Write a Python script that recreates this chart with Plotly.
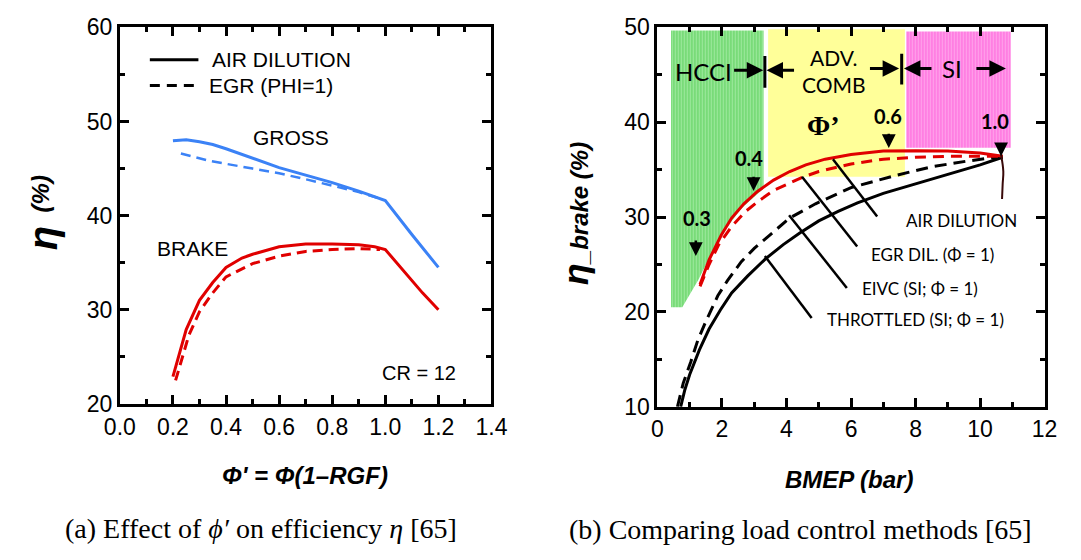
import plotly.graph_objects as go

# ---------------- data : panel (a) ----------------
gross_air_x = [0.20, 0.25, 0.30, 0.35, 0.40, 0.50, 0.60, 0.70, 0.80, 0.90, 1.00, 1.10, 1.20]
gross_air_y = [47.95, 48.05, 47.85, 47.55, 47.1, 46.1, 45.1, 44.3, 43.5, 42.6, 41.6, 38.0, 34.5]
gross_egr_x = [0.23, 0.34, 0.50, 0.60, 0.71, 0.80, 0.90, 0.97]
gross_egr_y = [46.6, 45.8, 45.0, 44.5, 43.8, 43.2, 42.5, 41.9]
brake_air_x = [0.20, 0.25, 0.30, 0.35, 0.40, 0.46, 0.50, 0.60, 0.70, 0.80, 0.90, 0.96, 1.00, 1.14, 1.20]
brake_air_y = [22.9, 27.9, 31.0, 32.9, 34.5, 35.5, 35.9, 36.7, 37.0, 37.0, 36.9, 36.7, 36.4, 31.8, 30.0]
brake_egr_x = [0.21, 0.26, 0.30, 0.35, 0.40, 0.50, 0.60, 0.70, 0.80, 0.90, 0.98]
brake_egr_y = [22.5, 27.3, 29.8, 31.8, 33.5, 34.9, 35.7, 36.2, 36.4, 36.5, 36.4]

# ---------------- data : panel (b) ----------------
air_x = [1.32, 1.6, 1.98, 2.3, 2.68, 3.1, 3.6, 4.1, 4.6, 5.2, 6.0, 7.0, 8.0, 9.0, 10.0, 10.7]
air_y = [22.9, 25.5, 28.1, 29.9, 31.4, 32.7, 33.9, 34.8, 35.5, 36.1, 36.6, 36.95, 37.0, 36.95, 36.75, 36.4]
egr_x = [1.32, 1.6, 1.9, 2.3, 2.7, 3.1, 3.6, 4.1, 4.5, 5.0, 6.0, 7.0, 8.0, 9.0, 10.0, 10.7]
egr_y = [22.7, 25.0, 27.1, 29.0, 30.5, 31.6, 32.8, 33.6, 34.2, 34.8, 35.6, 36.1, 36.3, 36.4, 36.4, 36.4]
eivc_x = [0.62, 0.8, 1.03, 1.25, 1.5, 1.87, 2.17, 2.6, 3.0, 3.4, 4.1, 4.9, 6.0, 7.4, 8.5, 9.6, 10.7]
eivc_y = [10.0, 12.5, 14.7, 17.0, 19.0, 21.7, 23.3, 25.3, 26.7, 27.9, 29.9, 31.4, 33.1, 34.4, 35.3, 35.9, 36.4]
thr_x = [0.72, 0.85, 1.0, 1.3, 1.6, 1.95, 2.3, 2.8, 3.35, 3.9, 4.4, 5.0, 5.6, 6.2, 7.0, 8.0, 9.0, 10.0, 10.7]
thr_y = [10.0, 11.8, 13.4, 16.0, 18.2, 20.2, 22.0, 23.8, 25.6, 27.1, 28.3, 29.6, 30.6, 31.5, 32.5, 33.5, 34.5, 35.5, 36.3]
tail_x = [10.65, 10.72, 10.70, 10.68]
tail_y = [36.6, 34.8, 33.5, 31.9]

# regions (HCCI, ADV. COMB, SI)
hcci_x = [0.42, 0.77, 1.27, 1.95, 2.6, 3.29, 3.29, 0.42, 0.42]
hcci_y = [20.5, 20.5, 23.4, 28.0, 30.9, 33.0, 49.67, 49.67, 20.5]
adv_x = [3.43, 7.67, 7.67, 3.43, 3.43]
adv_y = [34.25, 34.25, 49.8, 49.8, 34.25]
si_x = [7.71, 10.95, 10.95, 7.71, 7.71]
si_y = [37.3, 37.3, 49.57, 49.57, 37.3]

# phi' markers: label, label position, arrow tail y, arrow head y
phi_labels = ["0.3", "0.4", "0.6", "1.0"]
phi_lab_x = [1.22, 2.83, 7.14, 10.45]
phi_lab_y = [29.9, 36.26, 40.6, 40.1]
phi_arr_x = [1.19, 2.98, 7.17, 10.65]
phi_arr_y0 = [27.7, 34.4, 38.94, 37.6]
phi_arr_y1 = [25.9, 32.75, 37.27, 36.4]

# curve labels with leader lines
lbl_text = ["AIR DILUTION", "EGR DIL. (Φ = 1)", "EIVC (SI; Φ = 1)", "THROTTLED (SI; Φ = 1)"]
lbl_x = [9.43, 8.53, 8.14, 8.0]
lbl_y = [29.67, 26.05, 22.5, 19.18]
lead_x0 = [5.44, 4.48, 4.08, 3.33]
lead_y0 = [36.1, 34.25, 30.2, 25.9]
lead_x1 = [6.81, 6.19, 5.87, 4.78]
lead_y1 = [30.05, 26.9, 22.53, 19.35]

# region arrows: (tail x, head x, y)
reg_arr_tail = [2.33, 4.28, 6.54, 8.54, 9.84]
reg_arr_head = [3.28, 3.38, 7.49, 7.64, 10.8]
reg_arr_y = [45.48, 45.48, 45.65, 45.65, 45.65]
bar_x = [3.33, 7.57]
bar_y0 = [43.64, 43.97]
bar_y1 = [46.98, 47.2]

# legend samples panel (a)
leg_x = [0.113, 0.296]
leg_y = [56.56, 53.82]

BLUE = '#3b82f6'
RED = '#e00000'
LW = 3

fig = go.Figure()


def line(x, y, color, width, dash=None, ax='x', ay='y', shape='linear'):
    d = dict(color=color, width=width, shape=shape)
    if dash:
        d['dash'] = dash
    fig.add_trace(go.Scatter(x=x, y=y, mode='lines', line=d, xaxis=ax, yaxis=ay,
                             showlegend=False, hoverinfo='skip'))


# ---- panel (a) ----
line(gross_air_x, gross_air_y, BLUE, LW)
line(gross_egr_x, gross_egr_y, BLUE, LW - 0.5, '10px,6px')
line(brake_air_x, brake_air_y, RED, LW)
line(brake_egr_x, brake_egr_y, RED, LW, '10px,6px')
line(leg_x, [leg_y[0], leg_y[0]], 'black', LW)
line(leg_x, [leg_y[1], leg_y[1]], 'black', LW, '10px,7px')

# ---- panel (b) regions ----
fig.add_trace(go.Scatter(x=hcci_x, y=hcci_y, mode='lines', line=dict(width=0), fill='toself',
                         fillcolor='#a4eaa4',
                         fillpattern=dict(shape='|', fgcolor='#17b817', bgcolor='#aeeeae', size=3, solidity=0.55),
                         xaxis='x2', yaxis='y2', showlegend=False, hoverinfo='skip'))
fig.add_trace(go.Scatter(x=adv_x, y=adv_y, mode='lines', line=dict(width=0), fill='toself',
                         fillcolor='#ffff99', xaxis='x2', yaxis='y2', showlegend=False, hoverinfo='skip'))
fig.add_trace(go.Scatter(x=si_x, y=si_y, mode='lines', line=dict(width=0), fill='toself',
                         fillcolor='#ffa8ea',
                         fillpattern=dict(shape='|', fgcolor='#ff1ccc', bgcolor='#ffb4ee', size=3, solidity=0.55),
                         xaxis='x2', yaxis='y2', showlegend=False, hoverinfo='skip'))

# ---- panel (b) curves ----
line(thr_x, thr_y, 'black', LW, None, 'x2', 'y2')
line(eivc_x, eivc_y, 'black', LW, '12px,7px', 'x2', 'y2')
line(egr_x, egr_y, RED, LW, '11px,7px', 'x2', 'y2')
line(air_x, air_y, RED, LW, None, 'x2', 'y2')
line(tail_x, tail_y, '#3a0a0a', 2, None, 'x2', 'y2', 'spline')

for i in range(len(lbl_text)):
    line([lead_x0[i], lead_x1[i]], [lead_y0[i], lead_y1[i]], 'black', 2.5, None, 'x2', 'y2')
for i in range(len(bar_x)):
    line([bar_x[i], bar_x[i]], [bar_y0[i], bar_y1[i]], 'black', 3, None, 'x2', 'y2')

ann = []
SANS = 'Liberation Sans, Arial, sans-serif'
CAL = 'Lato, Open Sans, sans-serif'
SERIF = 'Liberation Serif, Times New Roman, serif'
# panel (a) texts
ann.append(dict(x=0.34, y=leg_y[0], xref='x', yref='y', text='AIR DILUTION', showarrow=False, xanchor='left',
                font=dict(family=SANS, size=21, color='black')))
ann.append(dict(x=0.329, y=leg_y[1], xref='x', yref='y', text='EGR (PHI=1)', showarrow=False, xanchor='left',
                font=dict(family=SANS, size=21, color='black')))
ann.append(dict(x=0.645, y=48.35, xref='x', yref='y', text='GROSS', showarrow=False,
                font=dict(family=SANS, size=21, color='black')))
ann.append(dict(x=0.274, y=36.5, xref='x', yref='y', text='BRAKE', showarrow=False,
                font=dict(family=SANS, size=21, color='black')))
ann.append(dict(x=1.128, y=23.24, xref='x', yref='y', text='CR = 12', showarrow=False,
                font=dict(family=SANS, size=20, color='black')))

# panel (b) region texts
ann.append(dict(x=1.42, y=45.3, xref='x2', yref='y2', text='HCCI', showarrow=False,
                font=dict(family=CAL, size=24, color='black')))
ann.append(dict(x=5.46, y=45.4, xref='x2', yref='y2', text='ADV.<br>COMB', showarrow=False,
                font=dict(family=CAL, size=21, color='black')))
ann.append(dict(x=9.14, y=45.65, xref='x2', yref='y2', text='SI', showarrow=False,
                font=dict(family=CAL, size=24, color='black')))
ann.append(dict(x=5.14, y=39.6, xref='x2', yref='y2', text='<b>Φ’</b>', showarrow=False,
                font=dict(family=SERIF, size=28, color='black')))
for i in range(len(reg_arr_tail)):
    ann.append(dict(x=reg_arr_head[i], y=reg_arr_y[i], ax=reg_arr_tail[i], ay=reg_arr_y[i],
                    xref='x2', yref='y2', axref='x2', ayref='y2', text='', showarrow=True,
                    arrowhead=2, arrowsize=1.1, arrowwidth=3, arrowcolor='black'))
for i in range(len(phi_labels)):
    ann.append(dict(x=phi_lab_x[i], y=phi_lab_y[i], xref='x2', yref='y2', text='<b>' + phi_labels[i] + '</b>',
                    showarrow=False, font=dict(family=CAL, size=20, color='black')))
    ann.append(dict(x=phi_arr_x[i], y=phi_arr_y1[i], ax=phi_arr_x[i], ay=phi_arr_y0[i],
                    xref='x2', yref='y2', axref='x2', ayref='y2', text='', showarrow=True,
                    arrowhead=2, arrowsize=1.1, arrowwidth=2.5, arrowcolor='black'))
for i in range(len(lbl_text)):
    ann.append(dict(x=lbl_x[i], y=lbl_y[i], xref='x2', yref='y2', text=lbl_text[i], showarrow=False,
                    font=dict(family=CAL, size=17, color='black')))


def ptext(px, py, text, size, family=SANS, angle=0):
    ann.append(dict(x=px / 1081, y=1 - py / 560, xref='paper', yref='paper', xanchor='center',
                    yanchor='middle', textangle=angle, showarrow=False, text=text,
                    font=dict(family=family, size=size, color='black')))


# axis titles
ptext(28, 236, "<b><i>η</i></b>", 40, angle=-90)
ptext(25, 190, "<b><i>(%)</i></b>", 24, angle=-90)
ptext(298, 485, "<b><i>Φ' = Φ(1–RGF)</i></b>", 24)
ptext(576, 210, "<b><i><span style='font-size:36px'>η</span>_brake (%)</i></b>", 24, angle=-90)
ptext(858, 489, "<b><i>BMEP (bar)</i></b>", 24)
# captions
ptext(252, 541, "(a) Effect of <i>ϕ′</i> on efficiency <i>η</i> [65]", 28, SERIF)
ptext(808, 542, "(b) Comparing load control methods [65]", 28, SERIF)


def axis(rng, dtick, mdtick, domain, anchor, fmt=None):
    d = dict(range=rng, dtick=dtick, tick0=rng[0], domain=domain, anchor=anchor,
             showline=True, linewidth=3, linecolor='black', mirror='allticks',
             ticks='inside', ticklen=9, tickwidth=3, tickcolor='black',
             showgrid=False, zeroline=False,
             tickfont=dict(family=SANS, size=23, color='black'),
             minor=dict(ticks='inside', dtick=mdtick, ticklen=5, tickwidth=3, tickcolor='black', showgrid=False))
    if fmt:
        d['tickformat'] = fmt
    return d


fig.update_layout(
    width=1081, height=560,
    margin=dict(l=0, r=0, t=0, b=0),
    paper_bgcolor='white', plot_bgcolor='white',
    showlegend=False,
    xaxis=axis([0, 1.4], 0.2, 0.1, [107 / 1081, 490 / 1081], 'y', '.1f'),
    yaxis=axis([20, 60], 10, 5, [1 - 410 / 560, 1 - 15 / 560], 'x'),
    xaxis2=axis([0, 12], 2, 1, [661 / 1081, 1060 / 1081], 'y2'),
    yaxis2=axis([10, 50], 10, 5, [1 - 413 / 560, 1 - 15 / 560], 'x2'),
    annotations=ann,
)

fig.write_html("out.html")
